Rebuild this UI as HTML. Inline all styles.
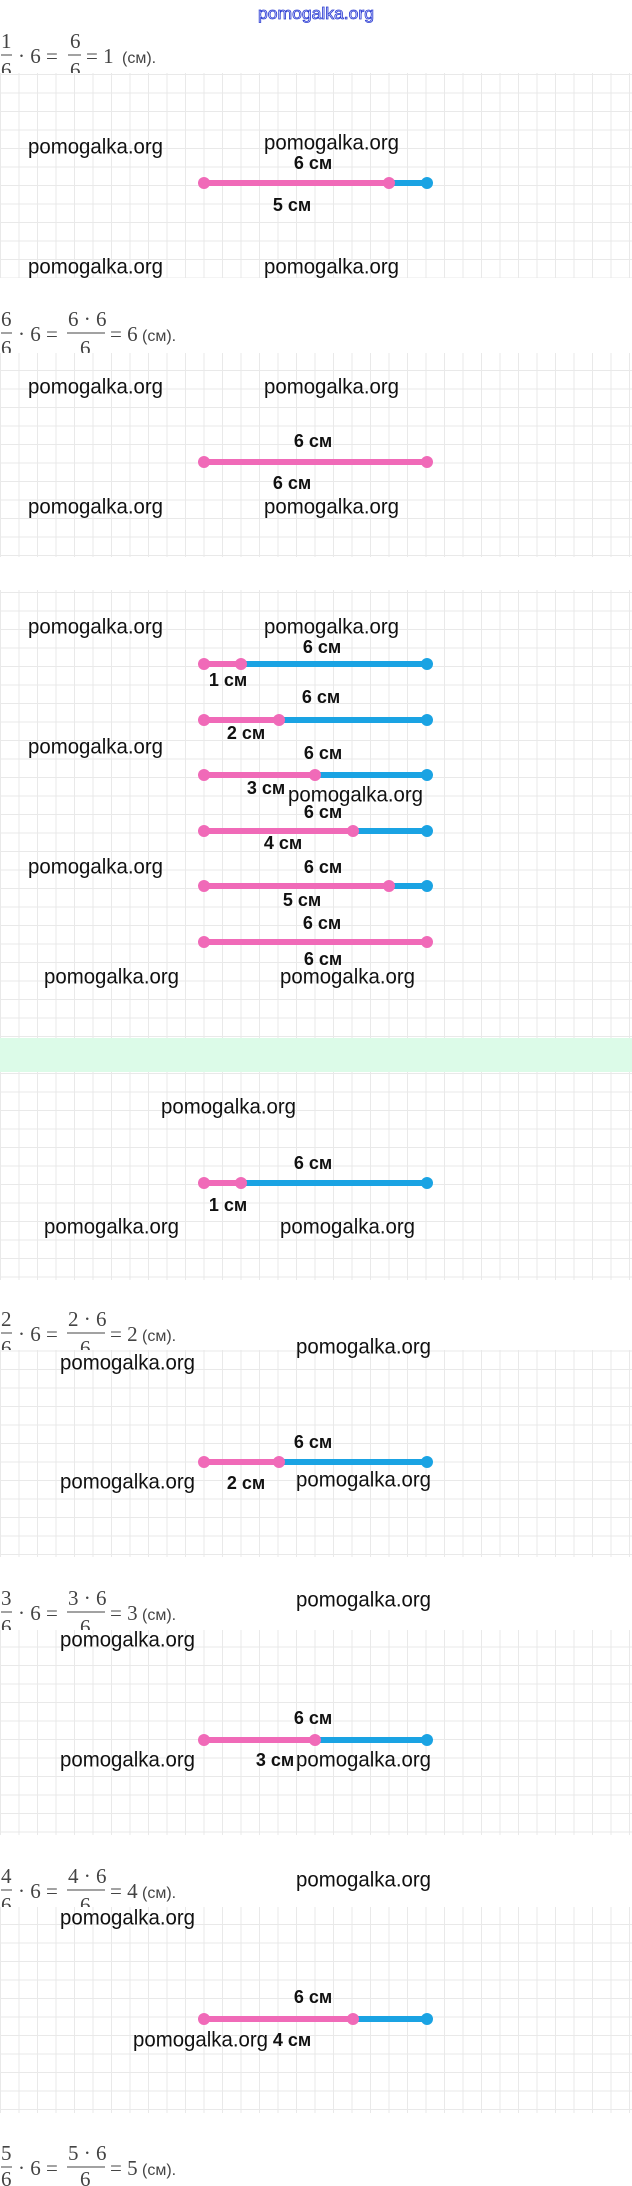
<!DOCTYPE html>
<html><head><meta charset="utf-8">
<style>
html,body{margin:0;padding:0;background:#fff;width:632px;height:2186px;overflow:hidden}
svg{display:block}
.f{font-family:"Liberation Serif",serif;font-size:21px;fill:#444}
.fs{font-family:"Liberation Sans",sans-serif;font-size:16px;fill:#444}
.w{font-family:"Liberation Sans",sans-serif;font-size:21px;fill:#111}
.l{font-family:"Liberation Sans",sans-serif;font-size:18px;font-weight:bold;fill:#111}
</style></head><body>
<svg width="632" height="2186" viewBox="0 0 632 2186" xmlns="http://www.w3.org/2000/svg">
<defs>
<pattern id="g" width="18.5" height="18.5" patternUnits="userSpaceOnUse">
<rect width="18.5" height="18.5" fill="#fff"/>
<path d="M0 0.5H18.5M0.5 0V18.5" stroke="#e9e9e9" stroke-width="1" fill="none"/>
</pattern>
</defs>
<rect width="632" height="2186" fill="#fff"/>
<text x="316" y="19" text-anchor="middle" font-family="Liberation Sans,sans-serif" font-size="17" fill="#dde0ff" stroke="#2a3bd1" stroke-width="0.8" textLength="116" lengthAdjust="spacingAndGlyphs">pomogalka.org</text>

<g class="f">
 <text x="1" y="48">1</text><line x1="1" y1="55" x2="12" y2="55" stroke="#444"/><text x="1" y="77">6</text>
 <text x="18" y="63">· 6 =</text>
 <text x="70" y="48">6</text><line x1="68" y1="55" x2="81" y2="55" stroke="#444"/><text x="70" y="77">6</text>
 <text x="86" y="63">= 1</text><text class="fs" x="122" y="63">(см).</text>

 <text x="1" y="326">6</text><line x1="1" y1="333" x2="12" y2="333" stroke="#444"/><text x="1" y="355">6</text>
 <text x="18" y="341">· 6 =</text>
 <text x="68" y="326">6 · 6</text><line x1="67" y1="333" x2="105" y2="333" stroke="#444"/><text x="80" y="355">6</text>
 <text x="110" y="341">= 6</text><text class="fs" x="142" y="341">(см).</text>

 <text x="1" y="1326">2</text><line x1="1" y1="1333" x2="12" y2="1333" stroke="#444"/><text x="1" y="1355">6</text>
 <text x="18" y="1341">· 6 =</text>
 <text x="68" y="1326">2 · 6</text><line x1="67" y1="1333" x2="105" y2="1333" stroke="#444"/><text x="80" y="1355">6</text>
 <text x="110" y="1341">= 2</text><text class="fs" x="142" y="1341">(см).</text>

 <text x="1" y="1605">3</text><line x1="1" y1="1612" x2="12" y2="1612" stroke="#444"/><text x="1" y="1634">6</text>
 <text x="18" y="1620">· 6 =</text>
 <text x="68" y="1605">3 · 6</text><line x1="67" y1="1612" x2="105" y2="1612" stroke="#444"/><text x="80" y="1634">6</text>
 <text x="110" y="1620">= 3</text><text class="fs" x="142" y="1620">(см).</text>

 <text x="1" y="1883">4</text><line x1="1" y1="1890" x2="12" y2="1890" stroke="#444"/><text x="1" y="1912">6</text>
 <text x="18" y="1898">· 6 =</text>
 <text x="68" y="1883">4 · 6</text><line x1="67" y1="1890" x2="105" y2="1890" stroke="#444"/><text x="80" y="1912">6</text>
 <text x="110" y="1898">= 4</text><text class="fs" x="142" y="1898">(см).</text>

 <text x="1" y="2160">5</text><line x1="1" y1="2167" x2="12" y2="2167" stroke="#444"/><text x="1" y="2186">6</text>
 <text x="18" y="2175">· 6 =</text>
 <text x="68" y="2160">5 · 6</text><line x1="67" y1="2167" x2="105" y2="2167" stroke="#444"/><text x="80" y="2186">6</text>
 <text x="110" y="2175">= 5</text><text class="fs" x="142" y="2175">(см).</text>
</g>

<rect x="0" y="73" width="632" height="205" fill="url(#g)"/>
<rect x="0" y="353" width="632" height="204" fill="url(#g)"/>
<rect x="0" y="590" width="632" height="448" fill="url(#g)"/>
<rect x="0" y="1038" width="632" height="34" fill="#dcfbe8"/>
<rect x="0" y="1072" width="632" height="208" fill="url(#g)"/>
<rect x="0" y="1350" width="632" height="207" fill="url(#g)"/>
<rect x="0" y="1630" width="632" height="205" fill="url(#g)"/>
<rect x="0" y="1907" width="632" height="206" fill="url(#g)"/>

<g stroke-width="6" stroke-linecap="round">
 <line x1="204" y1="183" x2="389" y2="183" stroke="#f06ab8"/><line x1="389" y1="183" x2="427" y2="183" stroke="#1aa3e3"/>
 <line x1="204" y1="462" x2="427" y2="462" stroke="#f06ab8"/>
 <line x1="204" y1="664" x2="241" y2="664" stroke="#f06ab8"/><line x1="241" y1="664" x2="427" y2="664" stroke="#1aa3e3"/>
 <line x1="204" y1="720" x2="279" y2="720" stroke="#f06ab8"/><line x1="279" y1="720" x2="427" y2="720" stroke="#1aa3e3"/>
 <line x1="204" y1="775" x2="315" y2="775" stroke="#f06ab8"/><line x1="315" y1="775" x2="427" y2="775" stroke="#1aa3e3"/>
 <line x1="204" y1="831" x2="353" y2="831" stroke="#f06ab8"/><line x1="353" y1="831" x2="427" y2="831" stroke="#1aa3e3"/>
 <line x1="204" y1="886" x2="389" y2="886" stroke="#f06ab8"/><line x1="389" y1="886" x2="427" y2="886" stroke="#1aa3e3"/>
 <line x1="204" y1="942" x2="427" y2="942" stroke="#f06ab8"/>
 <line x1="204" y1="1183" x2="241" y2="1183" stroke="#f06ab8"/><line x1="241" y1="1183" x2="427" y2="1183" stroke="#1aa3e3"/>
 <line x1="204" y1="1462" x2="279" y2="1462" stroke="#f06ab8"/><line x1="279" y1="1462" x2="427" y2="1462" stroke="#1aa3e3"/>
 <line x1="204" y1="1740" x2="315" y2="1740" stroke="#f06ab8"/><line x1="315" y1="1740" x2="427" y2="1740" stroke="#1aa3e3"/>
 <line x1="204" y1="2019" x2="353" y2="2019" stroke="#f06ab8"/><line x1="353" y1="2019" x2="427" y2="2019" stroke="#1aa3e3"/>
</g>
<g fill="#f06ab8">
 <circle cx="204" cy="183" r="6"/><circle cx="389" cy="183" r="6"/>
 <circle cx="204" cy="462" r="6"/><circle cx="427" cy="462" r="6"/>
 <circle cx="204" cy="664" r="6"/><circle cx="241" cy="664" r="6"/>
 <circle cx="204" cy="720" r="6"/><circle cx="279" cy="720" r="6"/>
 <circle cx="204" cy="775" r="6"/><circle cx="315" cy="775" r="6"/>
 <circle cx="204" cy="831" r="6"/><circle cx="353" cy="831" r="6"/>
 <circle cx="204" cy="886" r="6"/><circle cx="389" cy="886" r="6"/>
 <circle cx="204" cy="942" r="6"/><circle cx="427" cy="942" r="6"/>
 <circle cx="204" cy="1183" r="6"/><circle cx="241" cy="1183" r="6"/>
 <circle cx="204" cy="1462" r="6"/><circle cx="279" cy="1462" r="6"/>
 <circle cx="204" cy="1740" r="6"/><circle cx="315" cy="1740" r="6"/>
 <circle cx="204" cy="2019" r="6"/><circle cx="353" cy="2019" r="6"/>
</g>
<g fill="#1aa3e3">
 <circle cx="427" cy="183" r="6"/><circle cx="427" cy="664" r="6"/><circle cx="427" cy="720" r="6"/>
 <circle cx="427" cy="775" r="6"/><circle cx="427" cy="831" r="6"/><circle cx="427" cy="886" r="6"/>
 <circle cx="427" cy="1183" r="6"/><circle cx="427" cy="1462" r="6"/><circle cx="427" cy="1740" r="6"/><circle cx="427" cy="2019" r="6"/>
</g>

<g class="l" text-anchor="middle" dominant-baseline="central">
 <text x="313" y="163">6 см</text><text x="292" y="205">5 см</text>
 <text x="313" y="441">6 см</text><text x="292" y="483">6 см</text>
 <text x="322" y="647">6 см</text><text x="228" y="680">1 см</text>
 <text x="321" y="697">6 см</text><text x="246" y="733">2 см</text>
 <text x="323" y="753">6 см</text><text x="266" y="788">3 см</text>
 <text x="323" y="812">6 см</text><text x="283" y="843">4 см</text>
 <text x="323" y="867">6 см</text><text x="302" y="900">5 см</text>
 <text x="322" y="923">6 см</text><text x="323" y="959">6 см</text>
 <text x="313" y="1163">6 см</text><text x="228" y="1205">1 см</text>
 <text x="313" y="1442">6 см</text><text x="246" y="1483">2 см</text>
 <text x="313" y="1718">6 см</text><text x="275" y="1760">3 см</text>
 <text x="313" y="1997">6 см</text><text x="292" y="2040">4 см</text>
</g>

<g class="w" dominant-baseline="central">
 <text x="28" y="147" textLength="135" lengthAdjust="spacingAndGlyphs">pomogalka.org</text>
 <text x="264" y="143" textLength="135" lengthAdjust="spacingAndGlyphs">pomogalka.org</text>
 <text x="28" y="267" textLength="135" lengthAdjust="spacingAndGlyphs">pomogalka.org</text>
 <text x="264" y="267" textLength="135" lengthAdjust="spacingAndGlyphs">pomogalka.org</text>
 <text x="28" y="387" textLength="135" lengthAdjust="spacingAndGlyphs">pomogalka.org</text>
 <text x="264" y="387" textLength="135" lengthAdjust="spacingAndGlyphs">pomogalka.org</text>
 <text x="28" y="507" textLength="135" lengthAdjust="spacingAndGlyphs">pomogalka.org</text>
 <text x="264" y="507" textLength="135" lengthAdjust="spacingAndGlyphs">pomogalka.org</text>
 <text x="28" y="627" textLength="135" lengthAdjust="spacingAndGlyphs">pomogalka.org</text>
 <text x="264" y="627" textLength="135" lengthAdjust="spacingAndGlyphs">pomogalka.org</text>
 <text x="28" y="747" textLength="135" lengthAdjust="spacingAndGlyphs">pomogalka.org</text>
 <text x="288" y="795" textLength="135" lengthAdjust="spacingAndGlyphs">pomogalka.org</text>
 <text x="28" y="867" textLength="135" lengthAdjust="spacingAndGlyphs">pomogalka.org</text>
 <text x="44" y="977" textLength="135" lengthAdjust="spacingAndGlyphs">pomogalka.org</text>
 <text x="280" y="977" textLength="135" lengthAdjust="spacingAndGlyphs">pomogalka.org</text>
 <text x="161" y="1107" textLength="135" lengthAdjust="spacingAndGlyphs">pomogalka.org</text>
 <text x="44" y="1227" textLength="135" lengthAdjust="spacingAndGlyphs">pomogalka.org</text>
 <text x="280" y="1227" textLength="135" lengthAdjust="spacingAndGlyphs">pomogalka.org</text>
 <text x="296" y="1347" textLength="135" lengthAdjust="spacingAndGlyphs">pomogalka.org</text>
 <text x="60" y="1363" textLength="135" lengthAdjust="spacingAndGlyphs">pomogalka.org</text>
 <text x="60" y="1482" textLength="135" lengthAdjust="spacingAndGlyphs">pomogalka.org</text>
 <text x="296" y="1480" textLength="135" lengthAdjust="spacingAndGlyphs">pomogalka.org</text>
 <text x="296" y="1600" textLength="135" lengthAdjust="spacingAndGlyphs">pomogalka.org</text>
 <text x="60" y="1640" textLength="135" lengthAdjust="spacingAndGlyphs">pomogalka.org</text>
 <text x="60" y="1760" textLength="135" lengthAdjust="spacingAndGlyphs">pomogalka.org</text>
 <text x="296" y="1760" textLength="135" lengthAdjust="spacingAndGlyphs">pomogalka.org</text>
 <text x="296" y="1880" textLength="135" lengthAdjust="spacingAndGlyphs">pomogalka.org</text>
 <text x="60" y="1918" textLength="135" lengthAdjust="spacingAndGlyphs">pomogalka.org</text>
 <text x="133" y="2040" textLength="135" lengthAdjust="spacingAndGlyphs">pomogalka.org</text>
</g>
</svg>
</body></html>
